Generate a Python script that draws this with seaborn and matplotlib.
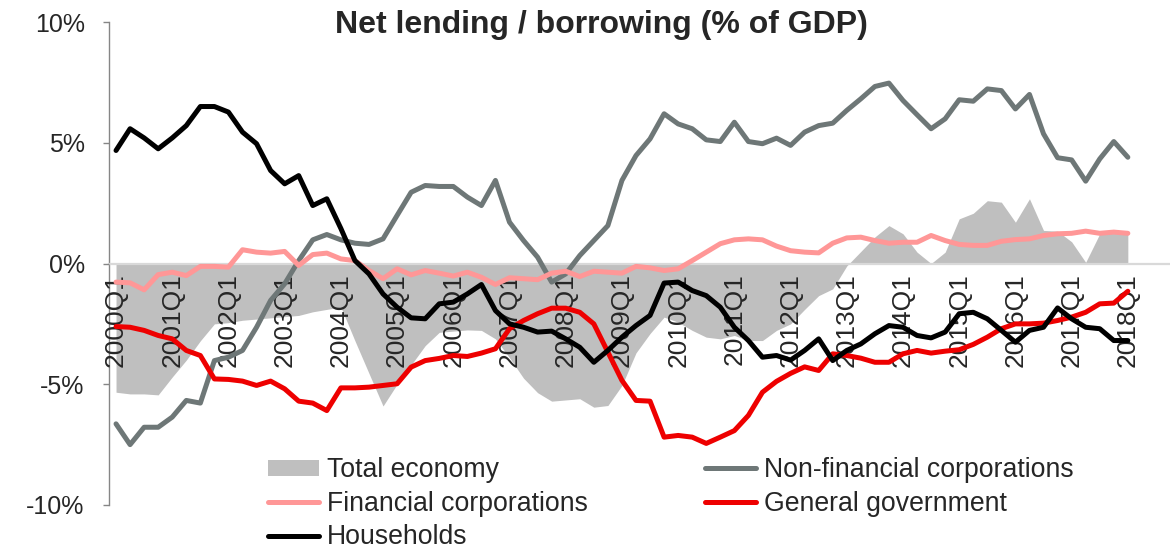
import matplotlib
matplotlib.use("Agg")
import matplotlib.pyplot as plt
import numpy as np
import pandas as pd
import seaborn as sns
from matplotlib.patches import Patch
from matplotlib.lines import Line2D

# quarterly categories 2000Q1 .. 2018Q1
quarters = [f"{y}Q{q}" for y in range(2000, 2019) for q in range(1, 5)][:73]
tick_labels = [f"{y}Q1" for y in range(2000, 2019)]

total_economy = [
    -5.33, -5.40, -5.40, -5.44, -4.70, -4.00, -3.20, -2.50, -2.45, -2.35,
    -2.30, -2.25, -2.20, -2.15, -2.00, -1.90, -1.80, -3.20, -4.55, -5.90,
    -5.00, -4.20, -3.40, -2.85, -2.80, -2.75, -2.77, -3.12, -3.90, -4.75,
    -5.35, -5.70, -5.65, -5.60, -5.95, -5.88, -5.05, -3.70, -2.90, -2.22,
    -2.43, -2.77, -3.05, -3.12, -2.98, -3.19, -3.19, -2.77, -2.50, -1.90,
    -1.33, -1.05, -0.10, 0.50, 1.10, 1.57, 1.23, 0.47, 0.00, 0.47,
    1.85, 2.08, 2.60, 2.54, 1.71, 2.68, 1.37, 1.34, 0.90, 0.05,
    1.23, 1.39, 1.30,
]
non_financial = [
    -6.64, -7.50, -6.78, -6.78, -6.36, -5.67, -5.78, -4.02, -3.88, -3.60,
    -2.64, -1.53, -0.84, 0.12, 0.98, 1.20, 0.98, 0.84, 0.79, 1.02,
    1.99, 2.95, 3.23, 3.19, 3.19, 2.75, 2.40, 3.44, 1.71, 0.95,
    0.26, -0.77, -0.43, 0.33, 0.95, 1.57, 3.44, 4.47, 5.16, 6.20,
    5.78, 5.58, 5.12, 5.05, 5.85, 5.05, 4.96, 5.19, 4.89, 5.44,
    5.71, 5.81, 6.34, 6.82, 7.33, 7.47, 6.75, 6.16, 5.58, 5.99,
    6.78, 6.72, 7.23, 7.16, 6.40, 7.00, 5.37, 4.38, 4.29, 3.41,
    4.33, 5.05, 4.40,
]
financial = [
    -0.77, -0.80, -1.09, -0.46, -0.36, -0.50, -0.12, -0.12, -0.15, 0.57,
    0.47, 0.43, 0.50, -0.08, 0.37, 0.43, 0.19, 0.12, -0.29, -0.63,
    -0.22, -0.47, -0.29, -0.40, -0.52, -0.36, -0.57, -0.87, -0.59, -0.63,
    -0.67, -0.40, -0.32, -0.54, -0.32, -0.36, -0.40, -0.12, -0.18, -0.29,
    -0.22, 0.12, 0.47, 0.82, 0.98, 1.02, 0.98, 0.72, 0.53, 0.47,
    0.44, 0.84, 1.06, 1.09, 0.95, 0.84, 0.88, 0.88, 1.16, 0.95,
    0.79, 0.75, 0.75, 0.92, 0.99, 1.02, 1.16, 1.23, 1.25, 1.34,
    1.25, 1.30, 1.25,
]
government = [
    -2.61, -2.64, -2.77, -2.98, -3.12, -3.60, -3.81, -4.78, -4.80, -4.87,
    -5.05, -4.87, -5.19, -5.70, -5.78, -6.09, -5.15, -5.15, -5.12, -5.05,
    -4.98, -4.29, -4.02, -3.93, -3.81, -3.85, -3.71, -3.53, -2.70, -2.36,
    -2.08, -1.85, -1.85, -2.02, -2.50, -3.67, -4.84, -5.67, -5.70, -7.19,
    -7.12, -7.19, -7.45, -7.19, -6.92, -6.29, -5.33, -4.88, -4.55, -4.28,
    -4.43, -3.74, -3.81, -3.92, -4.09, -4.09, -3.74, -3.60, -3.71, -3.63,
    -3.57, -3.35, -3.05, -2.70, -2.50, -2.50, -2.47, -2.36, -2.22, -2.02,
    -1.67, -1.64, -1.15,
]
households = [
    4.68, 5.58, 5.20, 4.75, 5.20, 5.71, 6.50, 6.50, 6.27, 5.44,
    4.96, 3.85, 3.30, 3.64, 2.40, 2.68, 1.45, 0.12, -0.43, -1.26,
    -1.81, -2.25, -2.29, -1.67, -1.60, -1.26, -0.87, -1.95, -2.50, -2.64,
    -2.84, -2.80, -3.12, -3.47, -4.09, -3.60, -3.05, -2.57, -2.15, -0.81,
    -0.77, -1.12, -1.33, -1.81, -2.64, -3.19, -3.88, -3.81, -4.00, -3.60,
    -3.12, -4.02, -3.60, -3.33, -2.91, -2.57, -2.64, -2.98, -3.08, -2.84,
    -2.08, -2.02, -2.29, -2.77, -3.26, -2.77, -2.64, -1.84, -2.29, -2.64,
    -2.70, -3.19, -3.19,
]

series_names = ["Non-financial corporations", "Financial corporations",
                "General government", "Households"]
series_colors = ["#6e7777", "#ff9797", "#ee0000", "#000000"]

df = pd.DataFrame({
    "quarter": quarters,
    "Total economy": total_economy,
    "Non-financial corporations": non_financial,
    "Financial corporations": financial,
    "General government": government,
    "Households": households,
})
df["pos"] = np.arange(len(df))
long_df = df.melt(id_vars=["quarter", "pos"], value_vars=series_names,
                  var_name="sector", value_name="value")

sns.set_theme(style="white")
plt.rcParams["font.family"] = ["Liberation Sans", "DejaVu Sans"]

fig = plt.figure(figsize=(11.7, 5.53), dpi=100)
ax = fig.add_axes([109 / 1170, 1 - 505 / 553, 1 - 109 / 1170, (505 - 22) / 553])
# axis labels sit above the shaded area but under the lines
ax.set_axisbelow(False)

ax.fill_between(df["pos"], 0, df["Total economy"], color="#bfbfbf",
                linewidth=0, zorder=1)
sns.lineplot(data=long_df, x="pos", y="value", hue="sector",
             hue_order=series_names, palette=series_colors,
             linewidth=3.6, legend=False, ax=ax, zorder=3)

ax.set_xlim(-0.5, 75.0)
ax.set_ylim(-10, 10)
ax.set_xlabel("")
ax.set_ylabel("")

# category axis sits on zero
ax.spines["bottom"].set_position(("data", 0))
ax.spines["bottom"].set_color("#d9d9d9")
ax.spines["bottom"].set_linewidth(1.6)
ax.spines["top"].set_visible(False)
ax.spines["right"].set_visible(False)
ax.spines["left"].set_color("#868686")
ax.spines["left"].set_linewidth(1.0)

tick_pos = df.loc[df["quarter"].isin(tick_labels), "pos"]
ax.set_xticks(tick_pos)
ax.set_xticklabels(tick_labels, rotation=90, fontsize=19)
ax.tick_params(axis="x", length=0, pad=7)
for lbl in ax.get_xticklabels():
    lbl.set_verticalalignment("top")

ax.set_yticks([-10, -5, 0, 5, 10])
ax.set_yticklabels(["-10%", "-5%", "0%", "5%", "10%"], fontsize=18)
ax.tick_params(axis="y", left=True, direction="out", length=4.5,
               width=1, color="#868686", pad=13)

fig.text(601 / 1170, 1 - 25 / 553, "Net lending / borrowing (% of GDP)",
         ha="center", va="center", fontsize=23, fontweight="bold")

handles = [
    Patch(facecolor="#bfbfbf", edgecolor="none", label="Total economy"),
    Line2D([], [], color=series_colors[1], lw=3.6, label="Financial corporations"),
    Line2D([], [], color=series_colors[3], lw=3.6, label="Households"),
    Line2D([], [], color=series_colors[0], lw=3.6, label="Non-financial corporations"),
    Line2D([], [], color=series_colors[2], lw=3.6, label="General government"),
]
fig.legend(handles=handles, ncol=2, loc="upper left",
           bbox_to_anchor=(268 / 1170, 1 - 457 / 553), frameon=False,
           fontsize=19.2, handlelength=1.9, handleheight=0.55, handletextpad=0.3,
           columnspacing=4.4, labelspacing=0.29, borderpad=0, borderaxespad=0)

fig.savefig("out.png", dpi=100)
